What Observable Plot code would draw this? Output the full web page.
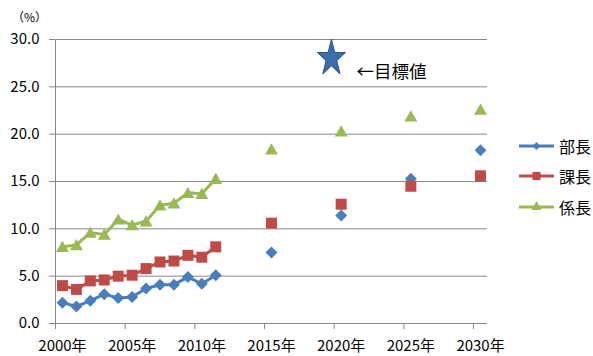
<!DOCTYPE html>
<html>
<head>
<meta charset="utf-8">
<script src="https://cdn.jsdelivr.net/npm/d3@7"></script>
<script src="https://cdn.jsdelivr.net/npm/@observablehq/plot@0.6"></script>
<style>
  html, body { margin: 0; padding: 0; background: #fff; }
  #wrap { position: relative; width: 593px; height: 356px; font-family: "Noto Sans CJK JP", "Noto Sans", sans-serif; color: #000; }
  #unit { position: absolute; left: 12px; top: 8px; font-size: 12px; }
  #legend { position: absolute; left: 519px; top: 131px; font-size: 16px; }
  .row { display: flex; align-items: center; height: 30.3px; }
  .row svg { margin-right: 4px; }
</style>
</head>
<body>
<div id="wrap">
  <div id="chart"></div>
  <div id="unit">（%）</div>
  <div id="legend"></div>
</div>
<script>
// ---- data ----
const seriesNames = ["部長", "課長", "係長"];
const seriesColors = ["#4A7EBB", "#BE4B48", "#98B954"];
const years = [2000, 2001, 2002, 2003, 2004, 2005, 2006, 2007, 2008, 2009, 2010, 2011];
const buchoValues = [2.2, 1.8, 2.4, 3.1, 2.7, 2.8, 3.7, 4.1, 4.1, 4.9, 4.2, 5.1];
const kachoValues = [4.0, 3.6, 4.5, 4.6, 5.0, 5.1, 5.8, 6.5, 6.6, 7.2, 7.0, 8.1];
const kakarichoValues = [8.1, 8.3, 9.6, 9.4, 11.0, 10.4, 10.8, 12.5, 12.7, 13.8, 13.7, 15.3];
const projYears = [2015, 2020, 2025, 2030];
const buchoProj = [7.5, 11.4, 15.3, 18.3];
const kachoProj = [10.6, 12.6, 14.5, 15.6];
const kakarichoProj = [18.4, 20.3, 21.9, 22.6];
const targetYear = [2019.3];
const targetValue = [28.0];
const targetLabel = "←目標値";
const xTickLabels = [2000, 2005, 2010, 2015, 2020, 2025, 2030];
const yTicks = [0, 5, 10, 15, 20, 25, 30];

// ---- build tables ----
const hist = [];
const proj = [];
[buchoValues, kachoValues, kakarichoValues].forEach((vals, s) => {
  years.forEach((yr, i) => hist.push({series: seriesNames[s], year: yr, value: vals[i]}));
});
[buchoProj, kachoProj, kakarichoProj].forEach((vals, s) => {
  projYears.forEach((yr, i) => proj.push({series: seriesNames[s], year: yr, value: vals[i]}));
});
const target = targetYear.map((yr, i) => ({year: yr, value: targetValue[i], label: targetLabel}));

const symbols = {"部長": "diamond2", "課長": "square", "係長": "triangle"};
const radii = {"部長": 5.4, "課長": 6.2, "係長": 4.8};

// stretched star symbol
const tallStar = {
  draw(context, size) {
    const rx = Math.sqrt(size / Math.PI);
    const ry = rx * 1.31;
    const inner = 0.382;
    for (let i = 0; i < 10; i++) {
      const a = Math.PI * i / 5;
      const k = i % 2 === 0 ? 1 : inner;
      const px = Math.sin(a) * rx * k;
      const py = -Math.cos(a) * ry * k;
      if (i === 0) context.moveTo(px, py); else context.lineTo(px, py);
    }
    context.closePath();
  }
};

const markFor = (name, data) => Plot.dot(data.filter(d => d.series === name), {
  x: "year", y: "value", symbol: () => symbols[name], fill: seriesColors[seriesNames.indexOf(name)],
  stroke: "none", r: radii[name], dy: name === "係長" ? 1.5 : 0
});

const chart = Plot.plot({
  width: 593,
  height: 356,
  marginLeft: 55,
  marginRight: 106,
  marginTop: 39,
  marginBottom: 33,
  style: {fontFamily: "'Noto Sans CJK JP', 'Noto Sans', sans-serif", fontSize: "15px", color: "#000", background: "#fff", overflow: "visible"},
  x: {domain: [1999.5, 2030.5]},
  y: {domain: [0, 30]},
  symbol: {domain: ["diamond2", "square", "triangle"], range: ["diamond2", "square", "triangle"]},
  marks: [
    Plot.gridY(yTicks, {stroke: "#878787", strokeOpacity: 1, strokeWidth: 1}),
    Plot.ruleX([1999.5], {stroke: "#878787", strokeWidth: 1}),
    Plot.axisY({ticks: yTicks, tickFormat: d => d.toFixed(1), tickSize: 6, tickPadding: 10, stroke: "#878787", label: null, fontSize: 15, fill: "#000"}),
    Plot.axisX({ticks: xTickLabels.map(d => d - 0.5), tickFormat: () => "", tickSize: 6, stroke: "#878787", label: null}),
    Plot.axisX({ticks: xTickLabels, tickFormat: d => d + "年", tickSize: 0, tickPadding: 17, label: null, fontSize: 15, fill: "#000"}),
    Plot.line(hist, {x: "year", y: "value", z: "series", stroke: d => seriesColors[seriesNames.indexOf(d.series)], strokeWidth: 3}),
    ...seriesNames.map(n => markFor(n, hist)),
    ...seriesNames.map(n => markFor(n, proj)),
    Plot.dot(target, {x: "year", y: "value", symbol: () => tallStar, r: 14.7, fill: "#3D6EA9", stroke: "#2A5487", strokeWidth: 1}),
    Plot.text(target, {x: "year", y: "value", text: "label", dx: 25, dy: 14, textAnchor: "start", fontSize: 17.5, fill: "#000"})
  ]
});
document.getElementById("chart").appendChild(chart);

// ---- legend ----
const legend = document.getElementById("legend");
const legendSyms = [d3.symbolDiamond2, d3.symbolSquare, d3.symbolTriangle];
const legendSizes = [Math.PI * 3.6 * 3.6, Math.PI * 4.6 * 4.6, Math.PI * 3.8 * 3.8];
seriesNames.forEach((name, i) => {
  const row = document.createElement("div");
  row.className = "row";
  const path = d3.symbol(legendSyms[i], legendSizes[i])();
  row.innerHTML = `<svg width="36" height="14" viewBox="0 0 36 14"><line x1="0" x2="35" y1="7" y2="7" stroke="${seriesColors[i]}" stroke-width="3"/><path transform="translate(17.5,7)" d="${path}" fill="${seriesColors[i]}"/></svg><span>${name}</span>`;
  legend.appendChild(row);
});
</script>
</body>
</html>
